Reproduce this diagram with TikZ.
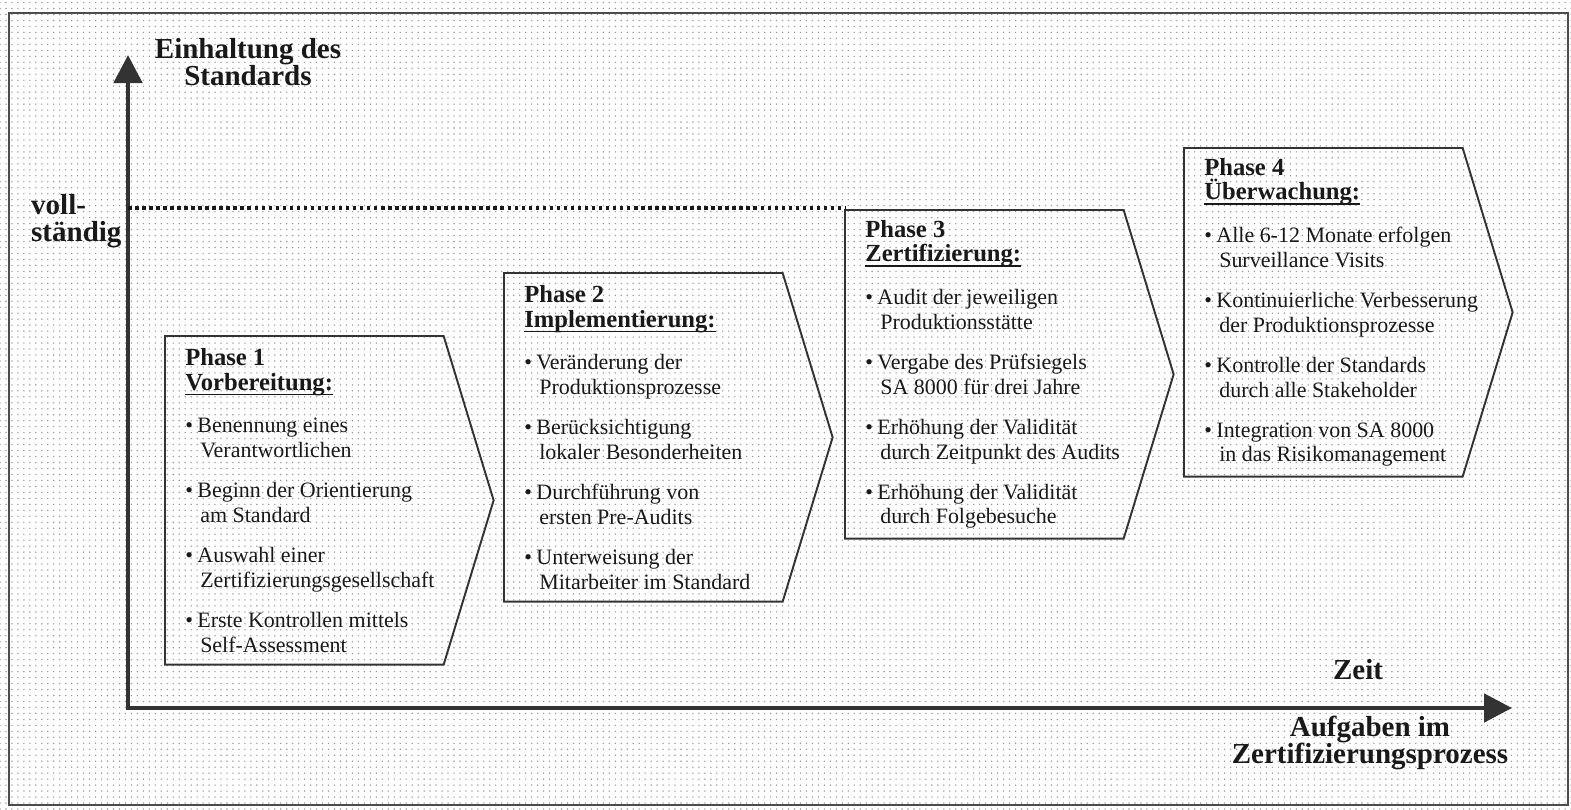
\documentclass[tikz,border=0pt]{standalone}
\usepackage{fontspec}
\setmainfont{Liberation Serif}
\usepackage{tikz}
\usetikzlibrary{arrows.meta, patterns.meta, positioning, calc}

\newcommand{\bul}[2]{\textbullet\kern2.5pt #1\\\hspace*{8.5pt}#2}
\newcommand{\headline}[1]{\setbox0\hbox{#1}\rlap{\rule[-2.8pt]{\wd0}{0.9pt}}\box0}
\newcommand{\phasehead}[2]{{\fontsize{14}{15.3}\selectfont\bfseries #1}\\{\fontsize{14}{15.3}\selectfont\bfseries\headline{#2}}}

\begin{document}
\begin{tikzpicture}[x=0.02cm, y=-0.02cm,
    phase/.style={minimum width=5.56cm, minimum height=6.56cm, inner sep=0pt, anchor=north west},
    phasetext/.style={anchor=west, xshift=4mm, inner sep=0pt, align=left, text=black!90, font=\fontsize{12.5}{14.2}\selectfont},
    phaseline/.style={draw=black!80, line width=1.1pt, line join=miter},
    axis/.style={draw=black!80, line width=2.8pt, {Triangle[width=5.6mm, length=5.6mm]}-{Triangle[width=5.6mm, length=5.6mm]}},
    axislabel/.style={text=black!90, font=\fontsize{16.5}{15.5}\selectfont\bfseries, align=center}]

    % Background and frame
    \fill[white] (0,0) rectangle (1571,809);
    \fill[pattern={Dots[distance=3.4pt, radius=0.45pt]}, pattern color=black!40] (0,0) rectangle (1571,809);
    \useasboundingbox (0,0) rectangle (1571,809);
    \draw[black!70, line width=1.1pt] (9,13) rectangle (1568,805);

    % Phase boxes
    \node[phase] (p1) at (165,336) {};
    \node[phase] (p2) at (504,273) {};
    \node[phase] (p3) at (845,210) {};
    \node[phase] (p4) at (1184,148) {};

    \foreach \p in {p1,p2,p3,p4} {
        \draw[phaseline] (\p.north west) -- (\p.north east) -- ([xshift=1cm]\p.east) -- (\p.south east) -- (\p.south west) -- cycle;
    }

    % Phase texts
    \node[phasetext] (t1) at (p1.west) {\phasehead{Phase 1}{Vorbereitung:}\\[10pt]
        \bul{Benennung eines}{Verantwortlichen}\\[8.5pt]
        \bul{Beginn der Orientierung}{am Standard}\\[8.5pt]
        \bul{Auswahl einer}{Zertifizierungsgesellschaft}\\[8.5pt]
        \bul{Erste Kontrollen mittels}{Self-Assessment}};
    \node[phasetext] (t2) at (p2.west) {\phasehead{Phase 2}{Implementierung:}\\[10pt]
        \bul{Veränderung der}{Produktionsprozesse}\\[8.5pt]
        \bul{Berücksichtigung}{lokaler Besonderheiten}\\[8.5pt]
        \bul{Durchführung von}{ersten Pre-Audits}\\[8.5pt]
        \bul{Unterweisung der}{Mitarbeiter im Standard}};
    \node[phasetext] (t3) at (p3.west) {\phasehead{Phase 3}{Zertifizierung:}\\[10pt]
        \bul{Audit der jeweiligen}{Produktionsstätte}\\[8.5pt]
        \bul{Vergabe des Prüfsiegels}{SA 8000 für drei Jahre}\\[8.5pt]
        \bul{Erhöhung der Validität}{durch Zeitpunkt des Audits}\\[8.5pt]
        \bul{Erhöhung der Validität}{durch Folgebesuche}};
    \node[phasetext] (t4) at (p4.west) {\phasehead{Phase 4}{Überwachung:}\\[10pt]
        \bul{Alle 6-12 Monate erfolgen}{Surveillance Visits}\\[8.5pt]
        \bul{Kontinuierliche Verbesserung}{der Produktionsprozesse}\\[8.5pt]
        \bul{Kontrolle der Standards}{durch alle Stakeholder}\\[8.5pt]
        \bul{Integration von SA 8000}{in das Risikomanagement}};

    % Axes
    \coordinate (O) at (128,708);
    \coordinate (ytop) at (128,55);
    \coordinate (xend) at (1512,708);
    \draw[axis] (ytop) -- (O) -- (xend);

    % Full compliance level
    \coordinate (voll) at (128,208);
    \draw[black!90, line width=2pt, dash pattern=on 2pt off 2pt] (voll) -- (voll -| p3.west);

    % Axis labels
    \node[axislabel] (ylabel) at (248,62) {Einhaltung des\\Standards};
    \node[axislabel, anchor=west, align=left] (vollst) at (25,221) {voll-\\ständig};
    \node[axislabel] (zeit) at (1358,670) {Zeit};
    \node[axislabel] (xlabel) at (1370,743) {Aufgaben im\\Zertifizierungsprozess};
\end{tikzpicture}
\end{document}
